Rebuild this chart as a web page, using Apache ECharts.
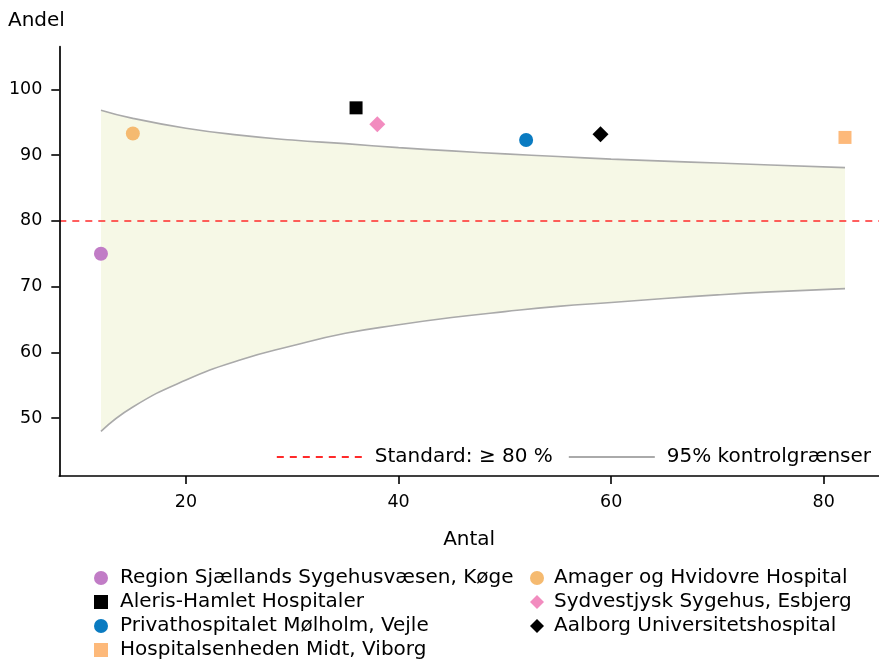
<!DOCTYPE html>
<html>
<head>
<meta charset="utf-8">
<script src="https://cdn.jsdelivr.net/npm/echarts@6/dist/echarts.min.js"></script>
<style>
html,body{margin:0;padding:0;background:#fff;}
#chart{width:879px;height:660px;}
</style>
</head>
<body>
<div id="chart"></div>
<script>
// ---- data ----
const hospitals = [
  'Region Sjællands Sygehusvæsen, Køge',
  'Amager og Hvidovre Hospital',
  'Aleris-Hamlet Hospitaler',
  'Sydvestjysk Sygehus, Esbjerg',
  'Privathospitalet Mølholm, Vejle',
  'Aalborg Universitetshospital',
  'Hospitalsenheden Midt, Viborg'
];
const antal = [12, 15, 36, 38, 52, 59, 82];
const andel = [75.0, 93.3, 97.2, 94.7, 92.3, 93.2, 92.7];

const limitX     = [12, 15, 20, 25, 30, 35, 40, 45, 50, 55, 60, 65, 70, 75, 82];
const upperLimit = [96.85, 95.6, 94.1, 93.05, 92.3, 91.75, 91.15, 90.65, 90.2, 89.8, 89.4, 89.1, 88.8, 88.5, 88.1];
const lowerLimit = [48.0, 51.7, 55.8, 58.8, 61.0, 62.9, 64.2, 65.3, 66.2, 67.0, 67.6, 68.2, 68.75, 69.2, 69.7];

const standardValue = 80;
const xTicks = [20, 40, 60, 80];
const yTicks = [50, 60, 70, 80, 90, 100];

const standardName = 'Standard: ≥ 80 %';
const limitName = '95% kontrolgrænser';

// ---- styles ----
const FONT = 'DejaVu Sans';
const X_MIN = 8.08, X_MAX = 85.2, Y_MIN = 41.2, Y_MAX = 106.5;
const markerStyles = [
  {symbol: 'circle', size: 14, color: '#c17cc6'},
  {symbol: 'circle', size: 14, color: '#f5ba70'},
  {symbol: 'rect', size: 13, color: '#000000'},
  {symbol: 'diamond', size: 16, color: '#f28cbf'},
  {symbol: 'circle', size: 14, color: '#0a7bc1'},
  {symbol: 'diamond', size: 16, color: '#000000'},
  {symbol: 'rect', size: 13, color: '#fdb97a'}
];

const chart = echarts.init(document.getElementById('chart'), null, {renderer: 'canvas'});

const SMOOTH = 0.5;
const series = [];
// upper limit with band fill down to axis bottom
series.push({
  name: limitName, type: 'line', silent: true,
  data: limitX.map((x, i) => [x, upperLimit[i]]),
  symbol: 'none', smooth: SMOOTH,
  lineStyle: {color: '#aaaaaa', width: 1.6}, itemStyle: {color: '#aaaaaa'},
  areaStyle: {color: '#f6f8e6', opacity: 1, origin: 'start'}, z: 2
});
// lower limit, white fill below it to clear the band
series.push({
  name: limitName, type: 'line', silent: true,
  data: limitX.map((x, i) => [x, lowerLimit[i]]),
  symbol: 'none', smooth: SMOOTH,
  lineStyle: {color: '#aaaaaa', width: 1.6}, itemStyle: {color: '#aaaaaa'},
  areaStyle: {color: '#ffffff', opacity: 1, origin: 'start'}, z: 2
});
series.push({
  name: standardName, type: 'line', silent: true,
  data: [[X_MIN, standardValue], [X_MAX, standardValue]],
  symbol: 'none', lineStyle: {color: '#ff2a2a', width: 1.5, type: [7, 6]}, itemStyle: {color: '#ff2a2a'}, z: 3
});
hospitals.forEach((h, i) => {
  series.push({
    name: h, type: 'scatter',
    data: [[antal[i], andel[i]]],
    symbol: markerStyles[i].symbol, symbolSize: markerStyles[i].size,
    itemStyle: {color: markerStyles[i].color, opacity: 1}, z: 5
  });
});

const legendText = {fontFamily: FONT, fontSize: 20, color: '#000', lineHeight: 20, padding: [0, 0, 0, 7]};

const option = {
  animation: false,
  backgroundColor: '#ffffff',
  textStyle: {fontFamily: FONT},
  title: {text: 'Andel', left: 8, top: 11, padding: 0, textStyle: {fontFamily: FONT, fontSize: 20, fontWeight: 'normal', color: '#000'}},
  grid: {left: 59.3, right: 0, top: 46.7, bottom: 184},
  xAxis: {
    type: 'value', min: X_MIN, max: X_MAX, z: 10,
    name: 'Antal', nameLocation: 'middle', nameGap: 54,
    nameTextStyle: {fontFamily: FONT, fontSize: 20, color: '#000', verticalAlign: 'top'},
    axisLine: {show: true, lineStyle: {color: '#000', width: 1.7}},
    axisTick: {show: true, length: 8, lineStyle: {color: '#000', width: 1.6}, customValues: xTicks},
    axisLabel: {fontFamily: FONT, fontSize: 17.5, color: '#000', margin: 17, customValues: xTicks},
    splitLine: {show: false}
  },
  yAxis: {
    type: 'value', min: Y_MIN, max: Y_MAX, z: 10,
    axisLine: {show: true, lineStyle: {color: '#000', width: 1.7}},
    axisTick: {show: true, length: 8, lineStyle: {color: '#000', width: 1.6}, customValues: yTicks},
    axisLabel: {fontFamily: FONT, fontSize: 17.5, color: '#000', margin: 17, customValues: yTicks},
    splitLine: {show: false}
  },
  legend: [
    {
      data: [standardName, limitName], right: 8, top: 447, orient: 'horizontal', padding: 0,
      itemWidth: 86, itemHeight: 14, itemGap: 15, selectedMode: false,
      itemStyle: {opacity: 0},
      textStyle: legendText
    },
    {
      data: hospitals.filter((_, i) => i % 2 === 0), left: 94, top: 568, orient: 'vertical', padding: 0,
      height: 92,
      itemWidth: 14, itemHeight: 14, itemGap: 4, selectedMode: false,
      textStyle: legendText
    },
    {
      data: hospitals.filter((_, i) => i % 2 === 1), left: 530, top: 568, orient: 'vertical', padding: 0,
      height: 92,
      itemWidth: 14, itemHeight: 14, itemGap: 4, selectedMode: false,
      textStyle: Object.assign({}, legendText, {padding: [0, 0, 0, 5]})
    }
  ],
  series: series
};
chart.setOption(option);
</script>
</body>
</html>
